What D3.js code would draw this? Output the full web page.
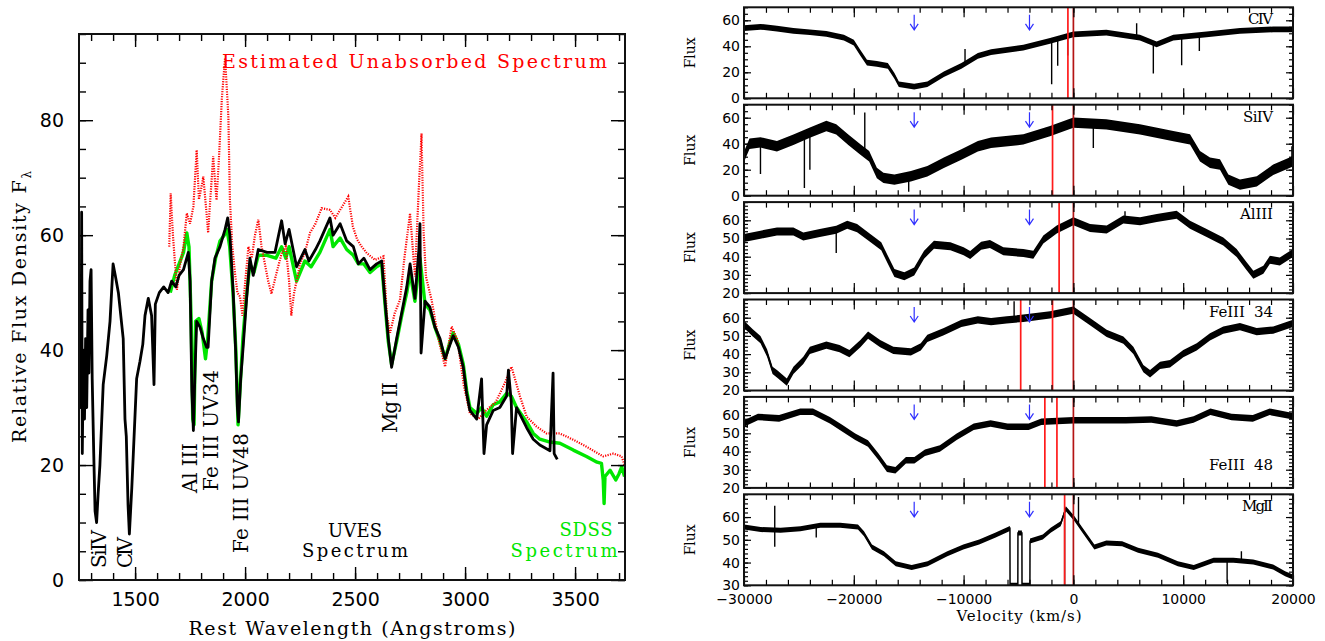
<!DOCTYPE html>
<html><head><meta charset="utf-8">
<script src="https://cdn.jsdelivr.net/npm/d3@7"></script>
<style>body{margin:0;background:#fff}svg{display:block}</style>
</head><body>
<svg id="c" width="1325" height="641"></svg>
<script>
// ================= LEFT PANEL DATA (rest wavelength Å, relative flux) =================
const uvesSpectrum = [[1245,38],[1250,45],[1254,30],[1257,64],[1260,22],[1265,40],[1270,28],[1275,42],[1280,30],[1286,47],[1290,36],[1295,52],[1300,54],[1305,35],[1312,22],[1318,12],[1325,10],[1332,15],[1340,20],[1355,34],[1371,39],[1386,45],[1400,55],[1410,53],[1424,50],[1446,42],[1454,28],[1460,25],[1468,13],[1474,8],[1485,16],[1492,22],[1507,35],[1522,38],[1535,41],[1545,46],[1560,49],[1575,46],[1586,34],[1592,48],[1610,50],[1630,51],[1650,50],[1666,52],[1685,51],[1700,53],[1720,54],[1742,57],[1750,52],[1758,33],[1765,26],[1772,36],[1780,45],[1795,44],[1810,42],[1825,40.5],[1832,40.5],[1848,52],[1863,56],[1886,58],[1909,61],[1921,63],[1931,60],[1946,50],[1957,40],[1965,30],[1970,27.5],[1980,35],[1992,41],[2007,49],[2022,56],[2037,53],[2060,57.5],[2100,57],[2136,57],[2166,62.5],[2182,58.5],[2200,61],[2234,54.5],[2272,57.5],[2290,55.5],[2320,57.5],[2340,59],[2386,63],[2400,60],[2432,62],[2462,59],[2492,58],[2515,55],[2540,56],[2568,54],[2598,55],[2621,55.5],[2636,48.5],[2651,42],[2666,37],[2689,42],[2712,46.5],[2735,51],[2750,55],[2772,49],[2790,57.5],[2795,62],[2800,39.5],[2818,48.5],[2840,47.5],[2863,44],[2886,42],[2909,38.5],[2932,41],[2946,42.5],[2970,40.5],[2992,37],[3007,32.5],[3022,29.5],[3053,28],[3075,35],[3086,22],[3098,27],[3128,29.5],[3158,30],[3189,32],[3197,36.5],[3210,31],[3216,22],[3234,30],[3280,26.5],[3310,24.5],[3340,23.5],[3386,22.5],[3400,36],[3405,22],[3419,21]];
const sdssSpectrum = [[1660,50],[1680,53],[1700,55],[1720,57],[1735,60.4],[1745,58],[1755,45],[1762,28],[1768,27],[1775,45],[1790,45.5],[1805,43],[1820,38.5],[1830,42],[1848,52],[1866,56],[1886,59],[1905,60],[1918,61],[1930,58],[1945,50],[1958,40],[1968,27],[1978,34],[1990,42],[2005,49],[2022,55],[2040,53.5],[2060,56.5],[2100,56.5],[2140,56],[2166,58],[2185,56],[2200,58],[2234,52],[2272,55.5],[2300,54.5],[2340,57],[2386,61],[2400,58],[2432,59.5],[2462,57.5],[2492,56.5],[2515,55],[2540,55],[2568,53.5],[2598,54.5],[2621,55],[2636,48],[2651,41.5],[2666,37.5],[2689,41.5],[2712,46],[2735,50],[2750,53.5],[2772,48.5],[2795,56],[2818,48],[2840,47],[2863,44],[2886,41.5],[2909,38.5],[2932,41.5],[2946,43],[2970,41],[2992,37.5],[3007,33],[3022,30],[3053,29],[3075,30],[3098,28.5],[3128,30.5],[3158,31],[3189,32.5],[3210,32],[3234,30],[3280,27.5],[3310,25.5],[3340,24.5],[3386,24],[3431,23.8],[3492,22.6],[3552,21.5],[3600,20.5],[3620,20.3],[3628,17.4],[3632,13.3],[3636,18],[3659,19.1],[3685,17.4],[3700,18.5],[3712,19.7],[3725,18]];
const estimatedSpectrum = [[1655,58],[1662,67.3],[1672,60],[1690,50.5],[1705,55],[1720,58],[1735,63.8],[1750,62],[1765,65],[1780,74.8],[1790,66.2],[1800,68],[1810,70.2],[1822,65],[1832,60.4],[1845,68],[1855,73.7],[1862,70],[1870,66.1],[1882,74],[1894,83.5],[1903,88],[1909,90.8],[1916,86],[1924,80.6],[1931,66.1],[1942,58],[1954,53.4],[1965,50],[1977,49.3],[1988,46],[2000,51.6],[2015,58],[2030,56],[2045,60],[2060,62.7],[2075,58],[2090,55],[2105,52],[2120,49.8],[2140,53],[2166,56.8],[2185,58],[2200,52],[2210,46],[2222,49.8],[2250,55],[2272,57],[2295,60.4],[2320,62],[2348,64.7],[2386,64.4],[2410,63],[2432,64.4],[2469,66.7],[2490,61.5],[2510,59.2],[2530,58],[2553,56.9],[2590,55.7],[2629,56.3],[2645,45.9],[2659,43],[2680,46.4],[2704,48.7],[2725,56.3],[2750,63.8],[2772,52.8],[2790,68.4],[2802,77.7],[2812,60.3],[2822,52.8],[2848,48.7],[2880,41.8],[2909,37.1],[2939,44.1],[2965,41.8],[2995,33.7],[3022,29],[3060,28],[3098,29.6],[3140,31],[3174,33.7],[3211,37.1],[3250,31.9],[3280,28.4],[3325,26.7],[3370,25.5],[3431,25.5],[3492,24.4],[3552,23.2],[3628,21.5],[3674,22],[3712,21.5],[3725,20]];
const leftXTicks = [1500,2000,2500,3000,3500];
const leftXMinor = d3.range(1300,3701,100);
const leftYTicks = [0,20,40,60,80];
const leftYMinor = d3.range(0,96,5);

// ================= RIGHT PANELS DATA (velocity km/s, flux) =================
const civVel  = [-30000,-28500,-27000,-25500,-24000,-22500,-20900,-20000,-19400,-18800,-17900,-16900,-16300,-15900,-14500,-13300,-11800,-10200,-8700,-7500,-4560,-2130,0,3000,6060,7580,9100,12130,15170,18200,20000];
const civFlux = [54,55,53.6,51.8,50.8,49.5,46.7,42.8,35,27.4,26.4,24.9,17.2,10.8,9,10.8,18.5,24.9,32.6,35.6,39,44.1,49.2,50.5,46.7,41.5,46.7,49.2,51.8,53,53];
const civSpikes = [[-1980,10.8],[-1430,25],[-520,33],[5760,57.7],[7280,19],[9860,25.4],[11470,36.4],[-9870,38]];
const civMarks = [-500,0];

const siivVel  = [-30000,-29500,-28500,-27000,-25500,-24000,-22500,-21600,-20500,-19400,-18600,-17900,-17300,-16300,-14800,-13300,-11800,-10200,-8700,-7500,-4560,-2130,0,3000,6060,9100,10620,11530,12440,13350,14110,15170,16700,18200,20000];
const siivFlux = [30,40,41,38,43,48.5,53.6,51,43,35.5,30.4,17.5,13.7,12.4,15,18.8,25.3,31.7,38,40.7,43.3,49.7,56.2,54.9,51,45.8,43.3,30.4,25.3,24,12.4,8.5,11,20,26.5];
const siivSpikes = [[-28500,16.6],[-24500,5.9],[-24000,20],[-19000,64],[-15000,3],[1815,36.7],[19900,38]];
const siivMarks = [-1900,0];

const alVel  = [-30000,-28500,-27000,-25500,-24600,-23100,-21600,-20600,-19700,-18500,-17500,-16900,-16300,-15400,-14500,-13600,-12700,-11200,-10000,-9400,-8400,-7600,-6380,-4560,-3650,-2740,-1520,0,1510,3030,4550,6070,7590,9400,10620,12130,13650,14870,15780,16390,17300,17900,18800,20000];
const alFlux = [50.3,52.1,53.9,53.9,51.1,53,54.8,57.6,55.7,50.3,45.7,38.3,31,29.2,31.9,41.1,46.6,45.7,43,41,46,47,43,42,41.1,49.4,54.9,59.5,55.8,54.9,60.4,59.5,61.3,63.1,57.6,53,48.4,42,34.7,30.1,32.8,38.3,37.4,42];
const alSpikes = [[-21600,42],[4700,65]];
const alMarks = [-1300,0];

const fe34Vel  = [-30000,-29200,-28500,-27900,-27400,-27000,-26100,-25500,-24600,-24000,-22500,-21300,-20400,-19400,-18700,-17600,-16400,-14800,-13900,-13300,-11800,-10200,-8700,-7500,-6080,-4560,-2130,0,1510,3030,4550,5460,6370,6980,7890,8800,10010,11230,12440,13650,15170,16690,18200,20000];
const fe34Flux = [56.3,51.7,48,40.6,31.1,29.2,24.6,31.1,36.6,42.1,44.9,43,40.3,45.8,50.4,45.8,42.1,41.2,44,48.6,52.3,56.9,58.8,57.9,58.8,59.7,61.5,64.2,57.9,51.4,47.7,42.1,32,29.2,33.8,34.7,40.3,44,49.5,53.2,55.1,52.3,53.2,56.9];
const fe34Spikes = [[-5400,69]];
const fe34Marks = [-4800,-1900,0];

const fe48Vel  = [-30000,-28730,-26800,-24880,-23720,-22180,-21030,-19870,-18710,-17750,-16980,-16210,-15250,-14480,-13520,-12160,-10630,-9080,-7540,-6000,-4080,-2920,0,2860,4780,7100,9410,10940,12480,14400,16340,17880,20000];
const fe48Flux = [55.4,59,58.2,61.8,61.8,57.2,52.7,48.1,44.4,37.1,30.6,29.7,35.2,35.2,39.3,41.7,48.1,53.6,55.4,53.6,53.6,56.3,57.2,57.2,57.2,57.6,55.4,57.6,61.8,59,58.2,61.8,59.4];
const fe48Spikes = [[-29700,53]];
const fe48Marks = [-2600,-1500,0];

const mgVel  = [-30000,-28480,-26670,-24860,-23050,-21240,-19620,-19070,-18350,-17260,-16180,-14730,-13280,-11480,-10030,-8580,-7130,-5780,-5770,-5060,-5050,-4690,-4680,-3960,-3950,-2790,-2070,-1160,-690,100,830,1910,3000,4440,5890,7700,9510,10960,12770,14570,16380,18190,19280,20000];
const mgFlux = [55.6,54.5,54.2,54.9,56.4,56.4,55.6,52.7,46.8,43.9,39.5,37.8,39.5,43.9,46.8,49,52,55,30,30,53,53,30,30,49.5,51.2,54.2,57.1,63.7,59.3,54.2,46.8,48.6,48.3,45.4,43.2,39.5,37.8,41,41,40.2,38,35.1,33.7];
const mgSpikes = [[-27200,65],[-27200,47],[-23420,51],[-800,30],[464,68.8],[14000,31],[15300,45]];
const mgMarks = [-800,0];

const arrowVel = [-14500,-4000];
const velTicks = [-30000,-20000,-10000,0,10000,20000];
const velMinor = d3.range(-28000,20000,2000);

// ================= DRAWING =================
const svg = d3.select("#c");
const SERIF = "'DejaVu Serif', serif";
const SANS = "'DejaVu Sans', sans-serif";
const defs = svg.append("defs");

function styleAxis(sel, fs, tw) {
  sel.select(".domain").remove();
  sel.selectAll("line").attr("stroke","#000").attr("stroke-width",tw);
  sel.selectAll("text").attr("font-family",SANS).attr("font-size",fs).attr("fill","#000");
}
function drawAxes(g, x, y, box, o) {
  const B = (axis, tr) => g.append("g").attr("transform",tr).call(axis).call(s=>styleAxis(s,o.fs,o.tw));
  B(d3.axisBottom(x).tickValues(o.xMin).tickSize(-o.xMinLen).tickFormat(""), `translate(0,${box.y1})`);
  B(d3.axisBottom(x).tickValues(o.xMaj).tickSize(-o.xMajLen).tickPadding(o.xPad).tickFormat(o.showX ? d3.format("d") : ""), `translate(0,${box.y1})`);
  B(d3.axisTop(x).tickValues(o.xMin).tickSize(-o.xMinLen).tickFormat(""), `translate(0,${box.y0})`);
  B(d3.axisTop(x).tickValues(o.xMaj).tickSize(-o.xMajLen).tickFormat(""), `translate(0,${box.y0})`);
  B(d3.axisLeft(y).tickValues(o.yMin).tickSize(-o.yMinLen).tickFormat(""), `translate(${box.x0},0)`);
  B(d3.axisLeft(y).tickValues(o.yMaj).tickSize(-o.yMajLen).tickPadding(o.yPad).tickFormat(d3.format("d")), `translate(${box.x0},0)`);
  B(d3.axisRight(y).tickValues(o.yMin).tickSize(-o.yMinLen).tickFormat(""), `translate(${box.x1},0)`);
  B(d3.axisRight(y).tickValues(o.yMaj).tickSize(-o.yMajLen).tickFormat(""), `translate(${box.x1},0)`);
  g.append("rect").attr("x",box.x0).attr("y",box.y0).attr("width",box.x1-box.x0).attr("height",box.y1-box.y0)
    .attr("fill","none").attr("stroke","#111").attr("stroke-width",o.fw);
}
function txt(g, s, x, y, o) {
  const t = g.append("text").attr("x",x).attr("y",y).text(s)
    .attr("font-family",o.font||SERIF).attr("font-size",o.fs).attr("fill",o.color||"#000")
    .attr("text-anchor",o.anchor||"start");
  if (o.len) t.attr("textLength",o.len).attr("lengthAdjust","spacing");
  if (o.rot) t.attr("transform",`rotate(-90,${x},${y})`);
  return t;
}

// ---------- Left panel ----------
const L = {x0:79, x1:625, y0:34, y1:580};
const xL = d3.scaleLinear().domain([1245,3727]).range([L.x0,L.x1]);
const yL = d3.scaleLinear().domain([0,95]).range([L.y1,L.y0]);
defs.append("clipPath").attr("id","clipL").append("rect")
  .attr("x",L.x0).attr("y",L.y0).attr("width",L.x1-L.x0).attr("height",L.y1-L.y0);
const gL = svg.append("g");
const lineL = d3.line().x(d=>xL(d[0])).y(d=>yL(d[1]));
const gLc = gL.append("g").attr("clip-path","url(#clipL)");
gLc.append("path").datum(sdssSpectrum).attr("d",lineL).attr("fill","none")
  .attr("stroke","#00e600").attr("stroke-width",3.4).attr("stroke-linejoin","round");
gLc.append("path").datum(estimatedSpectrum).attr("d",lineL).attr("fill","none")
  .attr("stroke","#ff0000").attr("stroke-width",2.2).attr("stroke-dasharray","1.2,1.3");
gLc.append("path").datum(uvesSpectrum).attr("d",lineL).attr("fill","none")
  .attr("stroke","#000").attr("stroke-width",2.8).attr("stroke-linejoin","round");

drawAxes(gL, xL, yL, L, {xMaj:leftXTicks, xMin:leftXMinor, yMaj:leftYTicks, yMin:leftYMinor,
  xMajLen:13, xMinLen:7, yMajLen:14, yMinLen:7, xPad:13, yPad:15, showX:true, fs:19, tw:1.4, fw:2});

txt(gL,"Estimated Unabsorbed Spectrum",222,68,{fs:19,color:"#ff0000",len:385});
txt(gL,"Rest Wavelength (Angstroms)",352,635,{fs:19,anchor:"middle",len:327});
const yl = txt(gL,"Relative Flux Density F",26,307,{fs:19,anchor:"middle",rot:true,len:272});
yl.append("tspan").attr("font-size",12).attr("dy",5).text("λ");
txt(gL,"SiIV",106,568,{fs:20,rot:true,len:38});
txt(gL,"CIV",131.5,568,{fs:20,rot:true,len:31});
txt(gL,"Al III",196.5,493,{fs:20,rot:true,len:50});
txt(gL,"Fe III UV34",218,491,{fs:20,rot:true,len:121});
txt(gL,"Fe III UV48",248,553,{fs:20,rot:true,len:120});
txt(gL,"Mg II",397,433,{fs:20,rot:true,len:51});
txt(gL,"UVES",355,536.5,{fs:18,anchor:"middle",len:54});
txt(gL,"Spectrum",355,557,{fs:18,anchor:"middle",len:106});
txt(gL,"SDSS",586,536,{fs:18,anchor:"middle",len:53,color:"#00e600"});
txt(gL,"Spectrum",564,557,{fs:18,anchor:"middle",len:107,color:"#00e600"});

// ---------- Right panels ----------
const R = {x0:744, x1:1293, top0:7.3, h:91, step:97.4};
const xR = d3.scaleLinear().domain([-30000,20000]).range([R.x0,R.x1]);
const panels = [
  {name:"CIV", vel:civVel, flux:civFlux, spikes:civSpikes, marks:civMarks, yDom:[0,70], yMaj:[0,20,40,60], yMin:d3.range(0,71,5), noise:2.2, lab:"top", len:25},
  {name:"SiIV", vel:siivVel, flux:siivFlux, spikes:siivSpikes, marks:siivMarks, yDom:[0,70], yMaj:[0,20,40,60], yMin:d3.range(0,71,5), noise:4, lab:"top", len:30},
  {name:"AlIII", vel:alVel, flux:alFlux, spikes:alSpikes, marks:alMarks, yDom:[20,70], yMaj:[20,30,40,50,60], yMin:d3.range(20,71,2), noise:2.2, lab:"top", len:33},
  {name:"FeIII  34", vel:fe34Vel, flux:fe34Flux, spikes:fe34Spikes, marks:fe34Marks, yDom:[20,70], yMaj:[20,30,40,50,60], yMin:d3.range(20,71,2), noise:2, lab:"top", len:64},
  {name:"FeIII  48", vel:fe48Vel, flux:fe48Flux, spikes:fe48Spikes, marks:fe48Marks, yDom:[20,70], yMaj:[20,30,40,50,60], yMin:d3.range(20,71,2), noise:1.8, lab:"bottom", len:64},
  {name:"MgII", vel:mgVel, flux:mgFlux, spikes:mgSpikes, marks:mgMarks, yDom:[30,70], yMaj:[30,40,50,60], yMin:d3.range(30,71,2), noise:1.1, lab:"top", len:31}
];
panels.forEach((p,i) => {
  const top = R.top0 + i*R.step, bot = top + R.h;
  const box = {x0:R.x0, x1:R.x1, y0:top, y1:bot};
  const y = d3.scaleLinear().domain(p.yDom).range([bot,top]);
  const g = svg.append("g");
  const cid = "clipR"+i;
  defs.append("clipPath").attr("id",cid).append("rect")
    .attr("x",box.x0).attr("y",box.y0).attr("width",box.x1-box.x0).attr("height",box.y1-box.y0);
  const gc = g.append("g").attr("clip-path",`url(#${cid})`);
  const pts = d3.zip(p.vel,p.flux);
  gc.append("path").datum(pts)
    .attr("d", d3.area().x(d=>xR(d[0])).y0(d=>y(d[1]-p.noise)).y1(d=>y(d[1]+p.noise)))
    .attr("fill","#000");
  gc.append("path").datum(pts).attr("d", d3.line().x(d=>xR(d[0])).y(d=>y(d[1])))
    .attr("fill","none").attr("stroke","#000").attr("stroke-width",1.5);
  const base = d3.scaleLinear().domain(p.vel).range(p.flux);
  gc.selectAll("line.spike").data(p.spikes).join("line").attr("class","spike")
    .attr("x1",d=>xR(d[0])).attr("x2",d=>xR(d[0])).attr("y1",d=>y(base(d[0]))).attr("y2",d=>y(d[1]))
    .attr("stroke","#000").attr("stroke-width",1.4);
  gc.selectAll("line.mark").data(p.marks).join("line").attr("class","mark")
    .attr("x1",d=>xR(d)).attr("x2",d=>xR(d)).attr("y1",top).attr("y2",bot)
    .attr("stroke",d=>d===0?"#b41414":"#ff1a1a").attr("stroke-width",1.7);
  g.selectAll("path.arrow").data(arrowVel).join("path").attr("class","arrow")
    .attr("d",d=>{const x=xR(d);return `M${x},${top+7.5}L${x},${top+22.5}M${x-4},${top+16.5}L${x},${top+22.5}L${x+4},${top+16.5}`;})
    .attr("fill","none").attr("stroke","#3030ff").attr("stroke-width",1.2);
  drawAxes(g, xR, y, box, {xMaj:velTicks, xMin:velMinor, yMaj:p.yMaj, yMin:p.yMin,
    xMajLen:10, xMinLen:5.5, yMajLen:7, yMinLen:4, xPad:9, yPad:4, showX:i===panels.length-1, fs:14, tw:1.2, fw:2});
  txt(g,"Flux",695,(top+bot)/2,{fs:14,anchor:"middle",rot:true,len:31});
  const ly = p.lab==="top" ? top+17 : bot-18;
  txt(g,p.name,1273,ly,{fs:15,anchor:"end",len:p.len}).style("white-space","pre");
});
txt(svg,"Velocity (km/s)",1019,621,{fs:15,anchor:"middle",len:125});
</script>
</body></html>
